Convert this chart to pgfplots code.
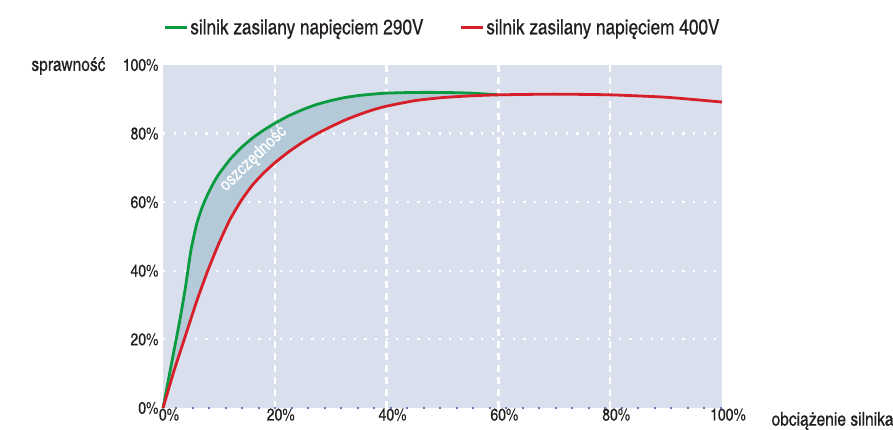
\documentclass[border=0pt]{standalone}
\usepackage{pgfplots}
\pgfplotsset{compat=1.18}
\usepgfplotslibrary{fillbetween}
\usepackage{fontspec}
\setmainfont{TeX Gyre Heros Cn}[FakeBold=0.5]
\definecolor{bgc}{HTML}{D9DFEC}
\definecolor{fillc}{HTML}{B4CAD8}
\definecolor{gr}{HTML}{0A9A40}
\definecolor{rd}{HTML}{D71F2A}
\definecolor{txt}{HTML}{231F20}
\definecolor{dotc}{HTML}{5B7DB5}
\begin{document}
\begin{tikzpicture}
\begin{axis}[
  name=ax,
  scale only axis,
  width=559pt, height=343pt,
  xmin=0, xmax=100, ymin=0, ymax=100,
  axis line style={draw=none},
  axis background/.style={fill=bgc},
  tick style={draw=none},
  xtick={0,20,40,60,80,100},
  xticklabels={0\%,20\%,40\%,60\%,80\%,100\%},
  ytick={0,20,40,60,80,100},
  yticklabels={0\%,20\%,40\%,60\%,80\%,100\%},
  ticklabel style={font=\fontsize{17}{17}\selectfont, text=txt},
  x tick label style={xshift=6pt, yshift=3pt},
  y tick label style={xshift=-1pt},
  extra x ticks={20,40,60,80},
  extra x tick labels={},
  extra x tick style={grid=major, major grid style={white, line width=2.4pt, dash pattern=on 7pt off 5pt}},
  extra y ticks={20,40,60,80},
  extra y tick labels={},
  extra y tick style={grid=major, major grid style={white, line width=2.2pt, dash pattern=on 2.2pt off 8.4pt}},
  legend style={at={(0.5,1)}, anchor=south, yshift=25pt, draw=none, fill=none,
    font=\fontsize{21}{21}\selectfont, text=txt, legend columns=2,
    /tikz/every even column/.append style={column sep=34pt}},
  legend image code/.code={\draw[#1, line width=2.8pt] (0pt,0pt) -- (22pt,0pt);},
  clip=false,
]
\addplot[draw=dotc, line width=2.6pt, dash pattern=on 2.4pt off 14.1pt, dash phase=-12pt, forget plot] coordinates {(0,0) (100,0)};
\addplot[name path=G, draw=gr, line width=2.8pt, smooth, tension=0.3] coordinates {
(0,0) (1,8.5) (2,17) (3,25.5) (4,35) (5,46) (6,53.5) (7,58.5) (8,62.3) (9,65.5) (10,68.2) (12,72.5) (14,75.9) (16,78.7) (18,81) (20,83) (22.5,85.2) (25,87) (27.5,88.5) (30,89.6) (32.5,90.5) (35,91.1) (37.5,91.5) (40,91.8) (45,92) (50,92) (55,91.8) (60,91.3)};
\addlegendentry{silnik zasilany napięciem 290V}
\addplot[name path=R, draw=rd, line width=2.8pt, smooth, tension=0.3] coordinates {
(0,0) (2,11) (4,21) (6,31) (8,40) (10,48) (12,55) (14,60.5) (16,65) (18,68.5) (20,71.5) (22.5,74.7) (25,77.5) (27.5,79.9) (30,82) (32.5,83.9) (35,85.5) (37.5,86.9) (40,88) (45,89.6) (50,90.5) (55,91) (60,91.3) (70,91.5) (80,91.3) (90,90.6) (100,89.2)};
\addlegendentry{silnik zasilany napięciem 400V}
\addplot[fill=fillc, draw=none, forget plot] fill between[of=G and R, soft clip={domain=0:60}];
\node[rotate=44, text=white, font=\fontsize{18}{18}\selectfont] at (axis cs:16.2,72.6) {oszczędność};
\end{axis}
\node[anchor=east, text=txt, font=\fontsize{19}{19}\selectfont] at ([xshift=-54pt, yshift=-1pt]ax.north west) {sprawność};
\node[anchor=west, text=txt, font=\fontsize{19}{19}\selectfont] at ([xshift=46pt, yshift=-13pt]ax.south east) {obciążenie silnika};
\pgfresetboundingbox
\useasboundingbox ([xshift=-163pt, yshift=-22pt]ax.south west) rectangle ([xshift=730pt, yshift=408pt]ax.south west);
\end{tikzpicture}
\end{document}
